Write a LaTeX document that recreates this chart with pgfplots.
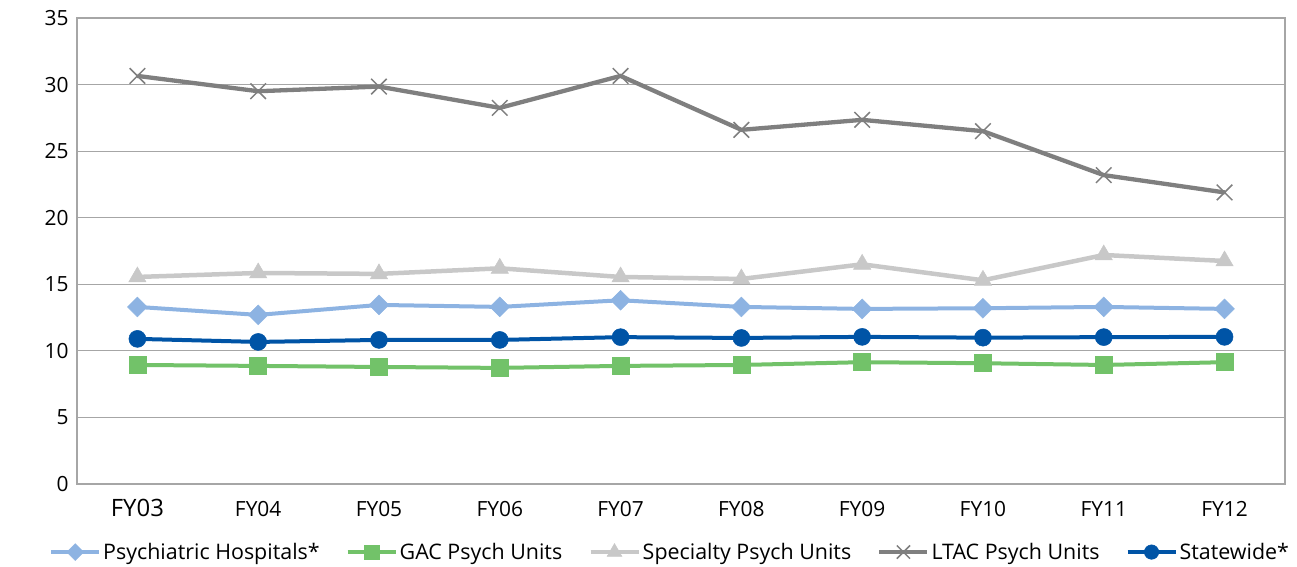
\documentclass[border=0pt]{standalone}
\usepackage{pgfplots}
\pgfplotsset{compat=1.18}
\usepackage{fontspec}
\setmainfont{Open Sans}
\definecolor{psych}{HTML}{8DB3E2}
\definecolor{gac}{HTML}{72C269}
\definecolor{spec}{HTML}{C8C8C8}
\definecolor{ltac}{HTML}{7F7F7F}
\definecolor{state}{HTML}{0054A6}
\definecolor{gridc}{HTML}{A6A6A6}
\begin{document}
\begin{tikzpicture}
\begin{axis}[
  at={(0,0)}, anchor=south west,
  scale only axis, width=1208bp, height=466bp,
  xmin=-0.5, xmax=9.5, ymin=0, ymax=35,
  xtick={0,...,9},
  xticklabels={{\fontsize{24}{28}\selectfont FY03},FY04,FY05,FY06,FY07,FY08,FY09,FY10,FY11,FY12},
  ytick={0,5,...,35},
  ymajorgrids, grid style={gridc, line width=0.9bp},
  axis line style={gridc, line width=1.5bp},
  major tick length=0pt,
  tick label style={font=\fontsize{21}{24}\selectfont},
  /pgf/number format/assume math mode=true,
  xticklabel style={anchor=base, yshift=-32bp},
  yticklabel style={xshift=-5bp},
  legend columns=5,
  legend style={draw=none, at={(0.491,0)}, anchor=north, yshift=-55bp, font=\fontsize{21.5}{24}\selectfont, /tikz/every even column/.append style={column sep=24bp}},
  legend image code/.code={\draw[#1, mark repeat=2, mark phase=2, every mark/.append style={scale=0.85}] plot coordinates {(0bp,0bp) (24bp,0bp) (48bp,0bp)};},
]
\addplot[psych, line width=4bp, mark=square*, mark size=7bp, mark options={solid, line width=0.5bp, rotate=45}] coordinates {
(0,13.3) (1,12.7) (2,13.45) (3,13.3) (4,13.8) (5,13.3) (6,13.15) (7,13.2) (8,13.3) (9,13.15)};
\addlegendentry{Psychiatric Hospitals*}
\addplot[gac, line width=4bp, mark=square*, mark size=8.5bp, mark options={solid, line width=0.5bp}] coordinates {
(0,8.94) (1,8.87) (2,8.79) (3,8.72) (4,8.87) (5,8.94) (6,9.15) (7,9.07) (8,8.94) (9,9.15)};
\addlegendentry{GAC Psych Units}
\addplot[spec, line width=4.5bp, mark=triangle*, mark size=10bp, mark options={solid, line width=0.5bp}] coordinates {
(0,15.55) (1,15.85) (2,15.78) (3,16.2) (4,15.55) (5,15.4) (6,16.5) (7,15.3) (8,17.2) (9,16.75)};
\addlegendentry{Specialty Psych Units}
\addplot[ltac, line width=4.3bp, mark=x, mark size=11bp, mark options={solid, line width=1.5bp}] coordinates {
(0,30.65) (1,29.5) (2,29.85) (3,28.25) (4,30.65) (5,26.6) (6,27.35) (7,26.5) (8,23.2) (9,21.9)};
\addlegendentry{LTAC Psych Units}
\addplot[state, line width=4bp, mark=*, mark size=8.5bp, mark options={solid, line width=0.5bp}] coordinates {
(0,10.9) (1,10.67) (2,10.82) (3,10.82) (4,11.03) (5,10.97) (6,11.05) (7,10.99) (8,11.03) (9,11.05)};
\addlegendentry{Statewide*}
\node[rotate=90, font=\fontsize{21}{24}\selectfont] at (axis description cs:-0.049,0.5) {days};
\end{axis}
\path[use as bounding box] (-77bp,-83bp) rectangle (1220bp,484bp);
\end{tikzpicture}
\end{document}
